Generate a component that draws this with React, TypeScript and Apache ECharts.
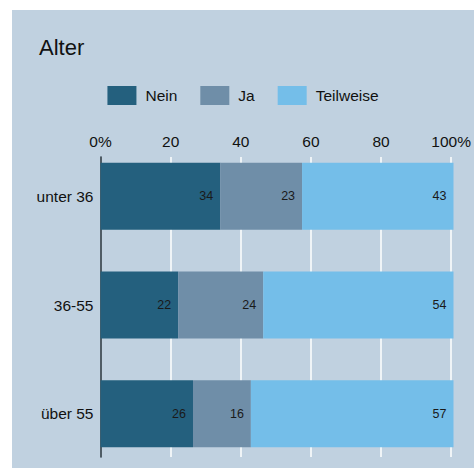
import React, { useEffect, useRef } from "react";
import * as echarts from "echarts";

const categories = ["unter 36", "36-55", "über 55"];
const seriesNames = ["Nein", "Ja", "Teilweise"];
const nein = [33.9, 22.0, 26.2];
const ja = [23.2, 24.1, 16.4];
const teilweise = [42.9, 53.9, 57.4];
const colors = ["#24607E", "#6F8EA8", "#74BEE9"];
const xTicks = [0, 20, 40, 60, 80, 100];

const FONT = "'Liberation Sans', Arial, Helvetica, sans-serif";

export default function App() {
  const ref = useRef<HTMLDivElement>(null);
  useEffect(() => {
    if (!ref.current) return;
    const chart = echarts.init(ref.current, undefined, { renderer: "svg" });
    const values = [nein, ja, teilweise];
    const series: any[] = seriesNames.map((name, i) => ({
      name,
      type: "bar",
      stack: "total",
      xAxisIndex: 0,
      yAxisIndex: 0,
      barWidth: 67,
      data: values[i],
      itemStyle: { color: colors[i] },
      label: {
        show: true,
        position: "insideRight",
        distance: 7,
        color: "#1a1a1a",
        fontSize: 12.5,
        fontFamily: FONT,
        formatter: (p: any) => String(Math.round(p.value)),
      },
      z: 3,
    }));
    chart.setOption({
      animation: false,
      backgroundColor: "#C0D1E0",
      textStyle: { fontFamily: FONT },
      title: {
        text: "Alter",
        left: 22,
        top: 21,
        textStyle: { fontSize: 22, fontWeight: "normal", color: "#111", fontFamily: FONT },
      },
      legend: {
        top: 71,
        left: "center",
        itemWidth: 29,
        itemHeight: 19,
        itemGap: 23,
        icon: "rect",
        data: seriesNames,
        textStyle: { fontSize: 15.5, color: "#111", fontFamily: FONT, padding: [0, 0, 0, 4] },
      },
      grid: [
        { left: 88.5, right: 20.5, top: 132, height: 331, containLabel: false },
        { left: 88.5, right: 20.5, top: 147, height: 300, containLabel: false },
      ],
      xAxis: [
        { type: "value", gridIndex: 0, min: 0, max: 100, show: false },
        {
          type: "value",
          gridIndex: 1,
          position: "top",
          min: 0,
          max: 100,
          interval: 20,
          axisLine: { show: false },
          axisTick: { show: false },
          splitLine: { show: true, lineStyle: { color: "#ffffff", width: 1.5 } },
          axisLabel: {
            margin: 8,
            fontSize: 15.5,
            color: "#111",
            fontFamily: FONT,
            formatter: (v: number) => (v === xTicks[0] || v === xTicks[xTicks.length - 1] ? v + "%" : String(v)),
          },
        },
      ],
      yAxis: [
        {
          type: "category",
          gridIndex: 0,
          data: categories,
          inverse: true,
          axisLine: { show: false },
          axisTick: { show: false },
          splitLine: { show: false },
          axisLabel: { margin: 7, fontSize: 15.5, color: "#111", fontFamily: FONT },
        },
        {
          type: "value",
          gridIndex: 1,
          min: 0,
          max: 1,
          axisLine: { show: true, lineStyle: { color: "#1a2a35", width: 1.5 } },
          axisTick: { show: false },
          axisLabel: { show: false },
          splitLine: { show: false },
        },
      ],
      series,
    });
    return () => chart.dispose();
  }, []);
  return (
    <div
      ref={ref}
      style={{ position: "absolute", left: 12, top: 10, width: 462, height: 458 }}
    />
  );
}
